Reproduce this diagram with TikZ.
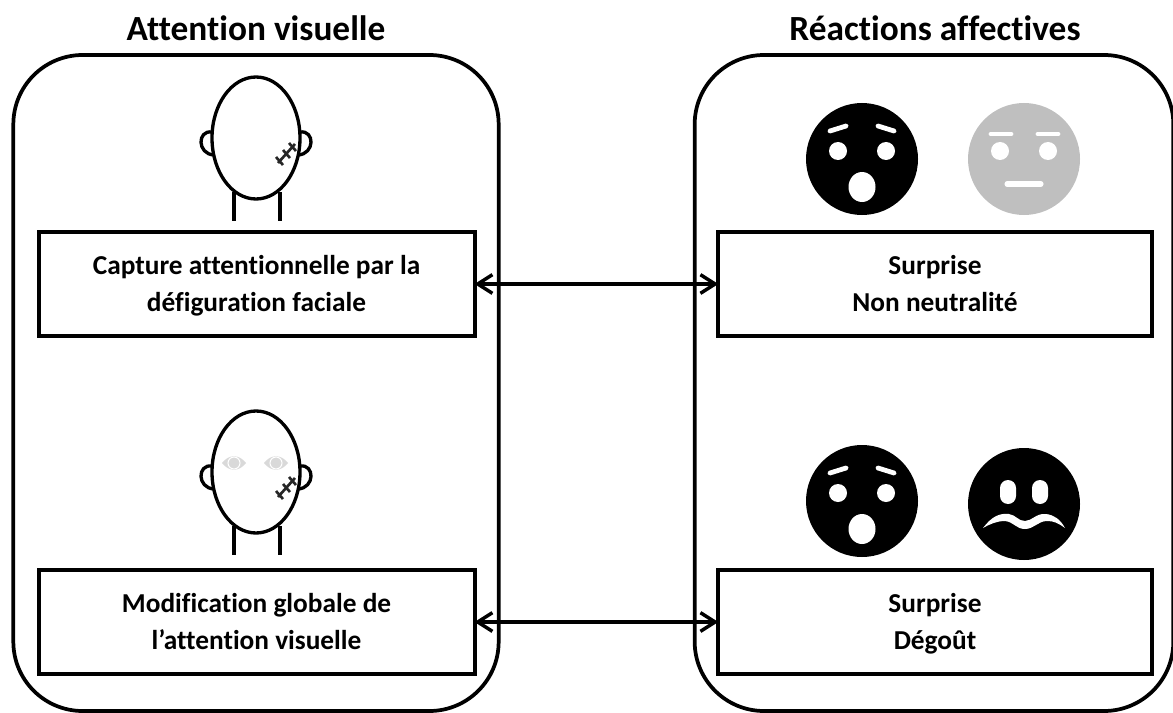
\documentclass[tikz,border=0pt]{standalone}
\usepackage{fontspec}
\setmainfont[Ligatures=NoCommon]{Carlito}
\usetikzlibrary{arrows.meta}

\tikzset{
    panel/.style={rectangle, draw, line width=2.8pt, rounded corners=52pt, minimum width=364pt, minimum height=492pt, outer sep=0pt},
    textbox/.style={rectangle, draw, line width=3pt, minimum width=327pt, minimum height=78pt, align=center, text depth=0.5pt, font=\bfseries\fontsize{20.5}{27.5}\selectfont, outer sep=0pt},
    heading/.style={font=\bfseries\fontsize{26.5}{30}\selectfont},
    link/.style={{Straight Barb[length=11pt,width=14pt,line width=2.6pt]}-{Straight Barb[length=11pt,width=14pt,line width=2.6pt]}, line width=2.6pt},
    % Head with scar, centred on the skull
    head/.pic={
        \draw[line width=2.5pt, fill=white] (0,0) ellipse [x radius=44, y radius=61];
        \draw[line width=2.5pt] (-44,-6) .. controls (-59,-8) and (-59,16) .. (-42,17);
        \draw[line width=2.5pt] (44,-6) .. controls (59,-8) and (59,16) .. (42,17);
        \draw[line width=2.5pt] (-22,54) -- (-22,83);
        \draw[line width=2.5pt] (24,54) -- (24,83);
        \draw[line width=2pt, black!85] (22,25) -- (39,6);
        \draw[line width=2pt, black!85] (20,19) -- (27,27);
        \draw[line width=2pt, black!85] (27,12) -- (34,20);
        \draw[line width=2pt, black!85] (33,5) -- (40,13);
    },
    facebase/.style={fill=#1, draw=none},
    % Faces, centred on the disc
    surprised/.pic={
        \fill (0,0) circle [radius=56];
        \draw[white, line width=3.6pt, line cap=round] (-32,-28) -- (-16,-33);
        \draw[white, line width=3.6pt, line cap=round] (16,-33) -- (32,-28);
        \fill[white] (-24,-8) circle [radius=9];
        \fill[white] (24,-8) circle [radius=9];
        \fill[white] (0,28) ellipse [x radius=13.5, y radius=15];
    },
    neutral/.pic={
        \fill[facebase=gray75] (0,0) circle [radius=56];
        \draw[white, line width=3.6pt, line cap=round] (-33,-25) -- (-13,-25);
        \draw[white, line width=3.6pt, line cap=round] (14,-25) -- (34,-25);
        \fill[white] (-24,-8) circle [radius=9];
        \fill[white] (24,-8) circle [radius=9];
        \draw[white, line width=3.8pt, line cap=round] (-17,25) -- (17,25);
    },
    disgusted/.pic={
        \fill (0,0) circle [radius=56];
        \fill[white, rounded corners=6pt] (-24,-24) rectangle (-8,0);
        \fill[white, rounded corners=6pt] (8,-24) rectangle (24,0);
        \fill[white] (-41,24) .. controls (-32,12) and (-24,9) .. (-15,10)
            .. controls (-8,11) and (-6,17) .. (1,17)
            .. controls (8,17) and (12,9) .. (22,10)
            .. controls (30,11) and (36,15) .. (41,24)
            .. controls (34,19) and (30,17) .. (23,17)
            .. controls (14,17) and (10,25) .. (1,25)
            .. controls (-8,25) and (-10,18) .. (-19,17)
            .. controls (-27,17) and (-34,20) .. (-41,24) -- cycle;
    },
}
\definecolor{gray75}{HTML}{BFBFBF}
\definecolor{eyegray}{HTML}{D9D9D9}

\begin{document}
\begin{tikzpicture}[x=0.75pt, y=-0.75pt, node distance=253.5pt]
    \useasboundingbox (0,0) rectangle (1173,713);

    % Panels
    \node [panel] (attention) at (256,383) {};
    \node [panel, minimum width=359pt] (reactions) at (934,383) {};
    \node [heading] (attentiontitle) at (256,28) {Attention visuelle};
    \node [heading] (reactionstitle) at (935,28) {Réactions affectives};

    % Heads
    \pic at (256,138) {head};
    \pic at (256,472) {head};
    \fill[eyegray] (222,463) .. controls (229,454) and (239,454) .. (246,463) .. controls (239,472) and (229,472) .. (222,463) -- cycle;
    \fill[eyegray] (264,463) .. controls (271,454) and (281,454) .. (288,463) .. controls (281,472) and (271,472) .. (264,463) -- cycle;
    \draw[white, line width=0.8pt] (234,463) circle [radius=6];
    \draw[white, line width=0.8pt] (276,463) circle [radius=6];

    % Faces
    \pic at (862,159) {surprised};
    \pic at (1024,159) {neutral};
    \pic at (862,501) {surprised};
    \pic at (1024,504) {disgusted};

    % Text boxes
    \node [textbox] (capture) at (256.5,284) {Capture attentionnelle par la\\défiguration faciale};
    \node [textbox, below of=capture] (modification) {Modification globale de\\l’attention visuelle};
    \node [textbox, minimum width=325pt] (surprise) at (935,284) {Surprise\\Non neutralité};
    \node [textbox, minimum width=325pt, below of=surprise] (degout) {Surprise\\Dégoût};

    % Arrows
    \draw[link] (capture) -- (surprise);
    \draw[link] (modification) -- (degout);
\end{tikzpicture}
\end{document}
